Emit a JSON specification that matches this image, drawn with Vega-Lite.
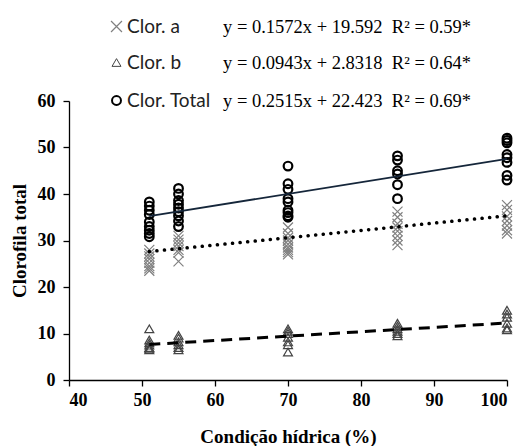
{
  "$schema": "https://vega.github.io/schema/vega-lite/v6.json",
  "width": 438,
  "height": 279,
  "autosize": {"type": "none"},
  "padding": {"left": 69, "top": 101, "right": 24, "bottom": 66},
  "background": "white",
  "config": {
    "view": {"stroke": null},
    "axis": {
      "grid": false,
      "domainColor": "black",
      "domainWidth": 1.3,
      "tickColor": "black",
      "tickWidth": 1.3,
      "tickSize": 6,
      "labelFont": "Liberation Serif",
      "labelFontSize": 18,
      "labelFontWeight": "bold",
      "labelColor": "black",
      "titleFont": "Liberation Serif",
      "titleFontSize": 19,
      "titleFontWeight": "bold",
      "titleColor": "black"
    },
    "legend": {
      "padding": 0,
      "offset": 0,
      "labelFont": "Lato",
      "labelFontSize": 19,
      "labelOffset": 1,
      "labelColor": "#222222",
      "titleFont": "Liberation Serif",
      "titleFontSize": 18.5,
      "titleFontWeight": "normal",
      "titleColor": "black",
      "titleOrient": "right",
      "titleLimit": 400,
      "titleBaseline": "middle",
      "symbolFillColor": "transparent"
    }
  },
  "datasets": {
    "pts": [
      {"series": "Clor. Total", "x": 51, "y": 38.3},
      {"series": "Clor. Total", "x": 51, "y": 37.4},
      {"series": "Clor. Total", "x": 51, "y": 36.5},
      {"series": "Clor. Total", "x": 51, "y": 35.6},
      {"series": "Clor. Total", "x": 51, "y": 34.0},
      {"series": "Clor. Total", "x": 51, "y": 33.0},
      {"series": "Clor. Total", "x": 51, "y": 32.2},
      {"series": "Clor. Total", "x": 51, "y": 31.5},
      {"series": "Clor. Total", "x": 51, "y": 30.8},
      {"series": "Clor. Total", "x": 55, "y": 41.2},
      {"series": "Clor. Total", "x": 55, "y": 40.0},
      {"series": "Clor. Total", "x": 55, "y": 38.6},
      {"series": "Clor. Total", "x": 55, "y": 37.8},
      {"series": "Clor. Total", "x": 55, "y": 37.0},
      {"series": "Clor. Total", "x": 55, "y": 36.2},
      {"series": "Clor. Total", "x": 55, "y": 35.3},
      {"series": "Clor. Total", "x": 55, "y": 34.2},
      {"series": "Clor. Total", "x": 55, "y": 33.0},
      {"series": "Clor. Total", "x": 70, "y": 46.0},
      {"series": "Clor. Total", "x": 70, "y": 42.2},
      {"series": "Clor. Total", "x": 70, "y": 41.0},
      {"series": "Clor. Total", "x": 70, "y": 39.0},
      {"series": "Clor. Total", "x": 70, "y": 38.3},
      {"series": "Clor. Total", "x": 70, "y": 36.5},
      {"series": "Clor. Total", "x": 70, "y": 36.0},
      {"series": "Clor. Total", "x": 70, "y": 35.3},
      {"series": "Clor. Total", "x": 70, "y": 35.0},
      {"series": "Clor. Total", "x": 85, "y": 48.2},
      {"series": "Clor. Total", "x": 85, "y": 47.3},
      {"series": "Clor. Total", "x": 85, "y": 45.0},
      {"series": "Clor. Total", "x": 85, "y": 44.3},
      {"series": "Clor. Total", "x": 85, "y": 42.0},
      {"series": "Clor. Total", "x": 85, "y": 39.0},
      {"series": "Clor. Total", "x": 100, "y": 52.0},
      {"series": "Clor. Total", "x": 100, "y": 51.5},
      {"series": "Clor. Total", "x": 100, "y": 51.0},
      {"series": "Clor. Total", "x": 100, "y": 48.5},
      {"series": "Clor. Total", "x": 100, "y": 47.8},
      {"series": "Clor. Total", "x": 100, "y": 46.8},
      {"series": "Clor. Total", "x": 100, "y": 44.0},
      {"series": "Clor. Total", "x": 100, "y": 43.0},
      {"series": "Clor. a", "x": 51, "y": 28.0},
      {"series": "Clor. a", "x": 51, "y": 27.2},
      {"series": "Clor. a", "x": 51, "y": 26.6},
      {"series": "Clor. a", "x": 51, "y": 26.0},
      {"series": "Clor. a", "x": 51, "y": 25.2},
      {"series": "Clor. a", "x": 51, "y": 24.5},
      {"series": "Clor. a", "x": 51, "y": 24.0},
      {"series": "Clor. a", "x": 51, "y": 23.5},
      {"series": "Clor. a", "x": 55, "y": 31.0},
      {"series": "Clor. a", "x": 55, "y": 30.2},
      {"series": "Clor. a", "x": 55, "y": 29.5},
      {"series": "Clor. a", "x": 55, "y": 28.8},
      {"series": "Clor. a", "x": 55, "y": 28.0},
      {"series": "Clor. a", "x": 55, "y": 27.4},
      {"series": "Clor. a", "x": 55, "y": 25.5},
      {"series": "Clor. a", "x": 70, "y": 32.8},
      {"series": "Clor. a", "x": 70, "y": 31.5},
      {"series": "Clor. a", "x": 70, "y": 30.6},
      {"series": "Clor. a", "x": 70, "y": 30.0},
      {"series": "Clor. a", "x": 70, "y": 29.2},
      {"series": "Clor. a", "x": 70, "y": 28.5},
      {"series": "Clor. a", "x": 70, "y": 28.0},
      {"series": "Clor. a", "x": 70, "y": 27.5},
      {"series": "Clor. a", "x": 70, "y": 27.0},
      {"series": "Clor. a", "x": 85, "y": 36.2},
      {"series": "Clor. a", "x": 85, "y": 35.0},
      {"series": "Clor. a", "x": 85, "y": 33.6},
      {"series": "Clor. a", "x": 85, "y": 32.8},
      {"series": "Clor. a", "x": 85, "y": 32.0},
      {"series": "Clor. a", "x": 85, "y": 31.0},
      {"series": "Clor. a", "x": 85, "y": 30.0},
      {"series": "Clor. a", "x": 85, "y": 29.0},
      {"series": "Clor. a", "x": 100, "y": 37.6},
      {"series": "Clor. a", "x": 100, "y": 36.6},
      {"series": "Clor. a", "x": 100, "y": 35.2},
      {"series": "Clor. a", "x": 100, "y": 34.2},
      {"series": "Clor. a", "x": 100, "y": 33.2},
      {"series": "Clor. a", "x": 100, "y": 32.2},
      {"series": "Clor. a", "x": 100, "y": 31.5},
      {"series": "Clor. b", "x": 51, "y": 11.0},
      {"series": "Clor. b", "x": 51, "y": 8.6},
      {"series": "Clor. b", "x": 51, "y": 8.0},
      {"series": "Clor. b", "x": 51, "y": 7.5},
      {"series": "Clor. b", "x": 51, "y": 7.0},
      {"series": "Clor. b", "x": 51, "y": 6.8},
      {"series": "Clor. b", "x": 51, "y": 6.5},
      {"series": "Clor. b", "x": 55, "y": 9.6},
      {"series": "Clor. b", "x": 55, "y": 9.0},
      {"series": "Clor. b", "x": 55, "y": 8.2},
      {"series": "Clor. b", "x": 55, "y": 7.6},
      {"series": "Clor. b", "x": 55, "y": 7.0},
      {"series": "Clor. b", "x": 55, "y": 6.5},
      {"series": "Clor. b", "x": 70, "y": 11.0},
      {"series": "Clor. b", "x": 70, "y": 10.5},
      {"series": "Clor. b", "x": 70, "y": 10.0},
      {"series": "Clor. b", "x": 70, "y": 9.2},
      {"series": "Clor. b", "x": 70, "y": 8.2},
      {"series": "Clor. b", "x": 70, "y": 7.6},
      {"series": "Clor. b", "x": 70, "y": 6.0},
      {"series": "Clor. b", "x": 85, "y": 12.2},
      {"series": "Clor. b", "x": 85, "y": 11.6},
      {"series": "Clor. b", "x": 85, "y": 11.0},
      {"series": "Clor. b", "x": 85, "y": 10.5},
      {"series": "Clor. b", "x": 85, "y": 10.0},
      {"series": "Clor. b", "x": 85, "y": 9.5},
      {"series": "Clor. b", "x": 100, "y": 15.0},
      {"series": "Clor. b", "x": 100, "y": 14.2},
      {"series": "Clor. b", "x": 100, "y": 13.5},
      {"series": "Clor. b", "x": 100, "y": 12.2},
      {"series": "Clor. b", "x": 100, "y": 11.2},
      {"series": "Clor. b", "x": 100, "y": 10.8}
    ],
    "fit": [
      {"series": "Clor. Total", "x": 51, "y": 35.25},
      {"series": "Clor. Total", "x": 100, "y": 47.57},
      {"series": "Clor. a", "x": 51, "y": 27.61},
      {"series": "Clor. a", "x": 100, "y": 35.31},
      {"series": "Clor. b", "x": 51, "y": 7.64},
      {"series": "Clor. b", "x": 100, "y": 12.26}
    ]
  },
  "encoding": {
    "x": {
      "field": "x",
      "type": "quantitative",
      "scale": {"domain": [40, 100], "nice": false, "zero": false},
      "axis": {"title": "Condição hídrica (%)", "values": [40, 50, 60, 70, 80, 90, 100], "labelPadding": 5, "titlePadding": 18}
    },
    "y": {
      "field": "y",
      "type": "quantitative",
      "scale": {"domain": [0, 60], "nice": false},
      "axis": {"title": "Clorofila total", "values": [0, 10, 20, 30, 40, 50, 60], "labelPadding": 8, "titlePadding": 8}
    }
  },
  "layer": [
    {
      "data": {"name": "pts"},
      "transform": [{"filter": "datum.series === 'Clor. a'"}],
      "mark": {"type": "point", "filled": false, "stroke": "#808080", "strokeWidth": 1.2, "size": 100, "opacity": 1},
      "encoding": {
        "shape": {
          "field": "series",
          "type": "nominal",
          "scale": {"domain": ["Clor. a"], "range": ["M-1,-1L1,1M-1,1L1,-1"]},
          "legend": {
            "orient": "none", "legendX": 38, "legendY": -84,
            "title": "y = 0.1572x + 19.592\u00a0\u00a0R² = 0.59*",
            "titlePadding": 43,
            "symbolStrokeColor": "#808080", "symbolStrokeWidth": 1.2, "symbolSize": 120
          }
        }
      }
    },
    {
      "data": {"name": "pts"},
      "transform": [{"filter": "datum.series === 'Clor. b'"}],
      "mark": {"type": "point", "filled": false, "stroke": "#444444", "strokeWidth": 1.2, "size": 80, "opacity": 1},
      "encoding": {
        "shape": {
          "field": "series",
          "type": "nominal",
          "scale": {"domain": ["Clor. b"], "range": ["triangle-up"]},
          "legend": {
            "orient": "none", "legendX": 38, "legendY": -48,
            "title": "y = 0.0943x + 2.8318\u00a0\u00a0R² = 0.64*",
            "titlePadding": 42,
            "symbolStrokeColor": "#444444", "symbolStrokeWidth": 1, "symbolSize": 80
          }
        }
      }
    },
    {
      "data": {"name": "pts"},
      "transform": [{"filter": "datum.series === 'Clor. Total'"}],
      "mark": {"type": "point", "filled": false, "stroke": "black", "strokeWidth": 2.2, "size": 75, "opacity": 1},
      "encoding": {
        "shape": {
          "field": "series",
          "type": "nominal",
          "scale": {"domain": ["Clor. Total"], "range": ["circle"]},
          "legend": {
            "orient": "none", "legendX": 38, "legendY": -10,
            "title": "y = 0.2515x + 22.423\u00a0\u00a0R² = 0.69*",
            "titlePadding": 12,
            "symbolStrokeColor": "black", "symbolStrokeWidth": 2, "symbolSize": 80
          }
        }
      }
    },
    {
      "data": {"name": "fit"},
      "transform": [{"filter": "datum.series === 'Clor. Total'"}],
      "mark": {"type": "line", "color": "#15263a", "strokeWidth": 1.8},
      "encoding": {}
    },
    {
      "data": {"name": "fit"},
      "transform": [{"filter": "datum.series === 'Clor. a'"}],
      "mark": {"type": "line", "color": "black", "strokeWidth": 3.5, "strokeDash": [0.1, 7.5], "strokeCap": "round"},
      "encoding": {}
    },
    {
      "data": {"name": "fit"},
      "transform": [{"filter": "datum.series === 'Clor. b'"}],
      "mark": {"type": "line", "color": "black", "strokeWidth": 3, "strokeDash": [11, 7]},
      "encoding": {}
    }
  ],
  "resolve": {"scale": {"shape": "independent"}, "legend": {"shape": "independent"}}
}
